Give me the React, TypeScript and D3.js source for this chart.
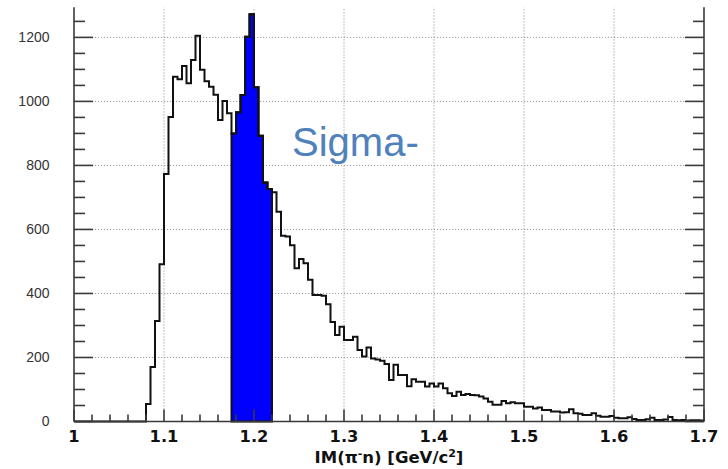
import React from "react";
import * as d3 from "d3";

const W = 728;
const H = 469;

// Invariant mass histogram: 140 bins of 0.005 GeV/c^2 from 1.0 to 1.7
const binLow = 1.0;
const binWidth = 0.005;
const counts = [
  0, 0, 0, 0, 0, 0, 0, 0, 0, 0, 0, 0, 0, 0, 0, 0,
  55, 170, 314, 491, 773, 951, 1077, 1069, 1111, 1057,
  1129, 1205, 1099, 1063, 1046, 1021, 942, 1001, 963, 900,
  966, 1020, 1202, 1272, 1044, 893, 747, 726, 716, 655,
  580, 578, 551, 479, 508, 494, 443, 395, 395, 393,
  366, 311, 270, 296, 255, 255, 265, 223, 203, 231,
  197, 194, 190, 180, 130, 177, 145, 145, 110, 132,
  124, 124, 109, 119, 109, 119, 104, 88, 80, 93,
  83, 86, 83, 82, 78, 72, 62, 52, 52, 64,
  57, 60, 57, 57, 46, 46, 41, 44, 36, 36,
  31, 31, 28, 29, 38, 26, 24, 20, 20, 26,
  18, 15, 15, 17, 12, 10, 10, 13, 8, 5,
  5, 7, 12, 5, 5, 6, 14, 5, 4, 5,
  3, 4, 4, 3,
];

// Mass window of the Sigma- selection
const sigmaWindow = [1.175, 1.22];

const xDomain = [1.0, 1.7];
const yDomain = [0, 1294];
const xMajor = [1.0, 1.1, 1.2, 1.3, 1.4, 1.5, 1.6, 1.7];
const xMajorLabels = ["1", "1.1", "1.2", "1.3", "1.4", "1.5", "1.6", "1.7"];
const yMajor = [0, 200, 400, 600, 800, 1000, 1200];
const yMajorLabels = ["0", "200", "400", "600", "800", "1000", "1200"];
const annotation = "Sigma-";

export default function App() {
  const left = 74;
  const right = 704;
  const bottom = 421.5;
  const top = 7.3;

  const x = d3.scaleLinear().domain(xDomain).range([left, right]);
  const y = d3.scaleLinear().domain(yDomain).range([bottom, top]);

  const pts: [number, number][] = counts.map((c, i) => [binLow + i * binWidth, c]);
  pts.push([binLow + counts.length * binWidth, counts[counts.length - 1]]);

  const line = d3
    .line<[number, number]>()
    .x((d) => x(d[0]))
    .y((d) => y(d[1]))
    .curve(d3.curveStepAfter);

  const eps = 1e-9;
  const selPts: [number, number][] = [];
  counts.forEach((c, i) => {
    const lo = binLow + i * binWidth;
    const hi = lo + binWidth;
    if (lo >= sigmaWindow[0] - eps && hi <= sigmaWindow[1] + eps) selPts.push([lo, c]);
  });
  if (selPts.length) selPts.push([sigmaWindow[1], selPts[selPts.length - 1][1]]);

  const area = d3
    .area<[number, number]>()
    .x((d) => x(d[0]))
    .y0(y(0))
    .y1((d) => y(d[1]))
    .curve(d3.curveStepAfter);

  const xMinor = d3.range(0, 36).map((k) => 1.0 + k * 0.02);
  const yMinor = d3.range(0, 26).map((k) => k * 50);

  const axisColor = "#3a3a3a";
  const gridColor = "#9a9a9a";

  return (
    <svg
      width={W}
      height={H}
      style={{ position: "absolute", left: 0, top: 0, background: "#ffffff" }}
    >
      <rect x={0} y={0} width={W} height={H} fill="#ffffff" />

      {/* grid */}
      <g stroke={gridColor} strokeWidth={1} strokeDasharray="1.2 1.8">
        {yMajor.filter((v) => v > 0).map((v) => (
          <line key={"gy" + v} x1={left} x2={right} y1={y(v)} y2={y(v)} />
        ))}
        {xMajor.slice(1, -1).map((v) => (
          <line key={"gx" + v} x1={x(v)} x2={x(v)} y1={bottom} y2={top} />
        ))}
      </g>

      <text
        x={292}
        y={156}
        fontFamily="'Liberation Sans', Arial, Helvetica, sans-serif"
        fontSize={40}
        fill="#4f81bd"
      >
        {annotation}
      </text>

      {/* selected window */}
      <path d={area(selPts) || ""} fill="#0000ff" stroke="#111" strokeWidth={2} />

      {/* histogram outline */}
      <path d={line(pts) || ""} fill="none" stroke="#111" strokeWidth={2} />

      {/* axes */}
      <g stroke={axisColor} strokeWidth={1.6} fill="none">
        <line x1={left} x2={left} y1={top} y2={bottom} />
        <line x1={right} x2={right} y1={top} y2={bottom} />
        <line x1={left} x2={right} y1={bottom} y2={bottom} />
        {yMinor.map((v) => {
          const major = v % 200 === 0;
          const len = major ? 19 : 11;
          return (
            <g key={"ty" + v}>
              <line x1={left} x2={left + len} y1={y(v)} y2={y(v)} />
              <line x1={right} x2={right - len} y1={y(v)} y2={y(v)} />
            </g>
          );
        })}
        {xMinor.map((v, k) => {
          const major = k % 5 === 0;
          const len = major ? 12 : 7;
          return <line key={"tx" + k} x1={x(v)} x2={x(v)} y1={bottom} y2={bottom - len} />;
        })}
      </g>

      {/* y tick labels */}
      <g
        fontFamily="'Liberation Sans', Arial, Helvetica, sans-serif"
        fontSize={14}
        fill="#333"
        textAnchor="end"
      >
        {yMajor.map((v, i) => (
          <text key={"ly" + v} x={49.5} y={y(v)} dy="0.35em">
            {yMajorLabels[i]}
          </text>
        ))}
      </g>

      {/* x tick labels */}
      <g
        fontFamily="'DejaVu Sans', Verdana, sans-serif"
        fontWeight="bold"
        fontSize={16.3}
        fill="#111"
        textAnchor="middle"
      >
        {xMajor.map((v, i) => (
          <text key={"lx" + v} x={x(v)} y={442}>
            {xMajorLabels[i]}
          </text>
        ))}
      </g>

      {/* x axis title */}
      <text
        x={(left + right) / 2}
        y={463}
        textAnchor="middle"
        fontFamily="'DejaVu Sans', Verdana, sans-serif"
        fontWeight="bold"
        fontSize={16.5}
        fill="#111"
      >
        IM(π
        <tspan fontSize={11} dy={-6}>-</tspan>
        <tspan dy={6}>n) [GeV/c</tspan>
        <tspan fontSize={11} dy={-6}>2</tspan>
        <tspan dy={6}>]</tspan>
      </text>
    </svg>
  );
}
